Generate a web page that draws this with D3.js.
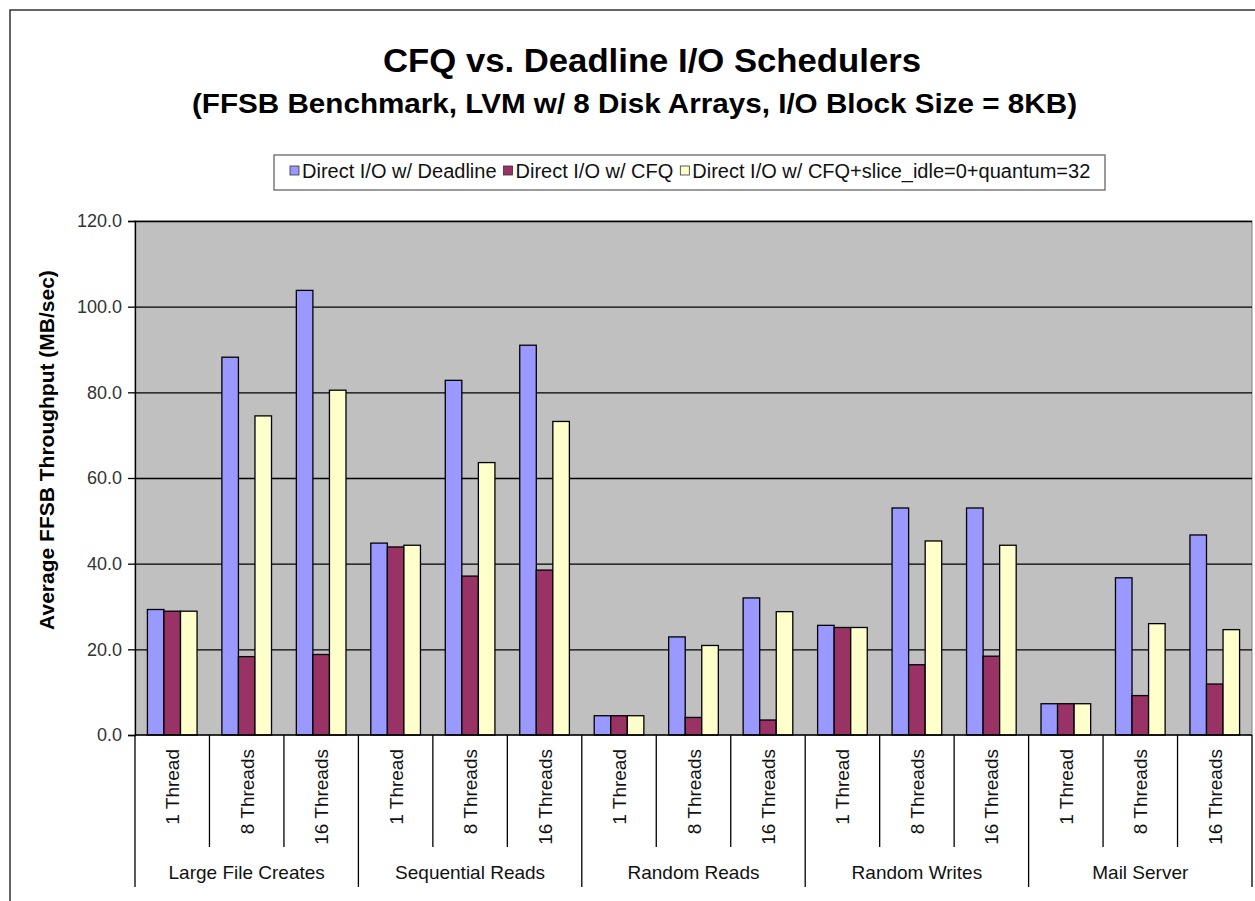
<!DOCTYPE html>
<html>
<head>
  <meta charset="utf-8">
  <script src="https://d3js.org/d3.v7.min.js"></script>
  <style>
    body { margin: 0; background: #fff; font-family: 'Liberation Sans', Arial, sans-serif; }
  </style>
</head>
<body>
  <div id="my_dataviz"></div>
  <script>
    // data
    var groups = ["Large File Creates", "Sequential Reads", "Random Reads", "Random Writes", "Mail Server"];
    var threads = ["1 Thread", "8 Threads", "16 Threads"];
    var seriesNames = ["Direct I/O w/ Deadline", "Direct I/O w/ CFQ", "Direct I/O w/ CFQ+slice_idle=0+quantum=32"];
    var deadline = [29.3, 88.2, 103.8, 44.8, 82.8, 91.0, 4.5, 22.9, 32.0, 25.6, 53.0, 53.0, 7.3, 36.7, 46.7];
    var cfq      = [28.9, 18.3, 18.8, 43.9, 37.1, 38.5, 4.5, 4.1, 3.5, 25.1, 16.4, 18.4, 7.3, 9.2, 11.9];
    var cfqTuned = [28.9, 74.5, 80.5, 44.3, 63.6, 73.2, 4.5, 20.9, 28.8, 25.1, 45.3, 44.3, 7.3, 26.0, 24.6];
    var yTicks = [0, 20, 40, 60, 80, 100, 120];

    var colors = ["#9999FF", "#993366", "#FFFFCC"];
    var seriesValues = [deadline, cfq, cfqTuned];

    var W = 1255, H = 901;
    var plot = { left: 135, right: 1252, top: 221, bottom: 735 };

    var svg = d3.select("#my_dataviz")
      .append("svg")
      .attr("width", W)
      .attr("height", H);

    // outer chart border (cut off at right and bottom)
    svg.append("rect")
      .attr("x", 10).attr("y", 10)
      .attr("width", W + 20).attr("height", H + 20)
      .attr("fill", "#fff")
      .attr("stroke", "#333")
      .attr("stroke-width", 1.5);

    // titles
    svg.append("text")
      .attr("x", 383).attr("y", 72)
      .attr("textLength", 538).attr("lengthAdjust", "spacingAndGlyphs")
      .style("font-size", "34px").style("font-weight", "bold")
      .text("CFQ vs. Deadline I/O Schedulers");
    svg.append("text")
      .attr("x", 192).attr("y", 113)
      .attr("textLength", 885).attr("lengthAdjust", "spacingAndGlyphs")
      .style("font-size", "27px").style("font-weight", "bold")
      .text("(FFSB Benchmark, LVM w/ 8 Disk Arrays, I/O Block Size = 8KB)");

    // scales
    var cats = d3.range(groups.length * threads.length);
    var x0 = d3.scaleBand().domain(cats).range([plot.left, plot.right]);
    var x1 = d3.scaleBand().domain(d3.range(3)).range([0, x0.bandwidth()])
      .paddingInner(0).paddingOuter(0.75);
    var y = d3.scaleLinear().domain([0, 120]).range([plot.bottom, plot.top]);

    // plot background
    svg.append("rect")
      .attr("x", plot.left).attr("y", plot.top)
      .attr("width", plot.right - plot.left).attr("height", plot.bottom - plot.top)
      .attr("fill", "#C0C0C0")
      .attr("stroke", "#808080");

    // gridlines
    svg.append("g")
      .attr("transform", "translate(" + plot.left + ",0)")
      .call(d3.axisLeft(y).tickValues(yTicks.slice(1)).tickSize(-(plot.right - plot.left)).tickFormat(""))
      .call(function (g) { g.select(".domain").remove(); })
      .selectAll("line").attr("stroke", "#000").attr("stroke-width", 1.3);

    // bars
    seriesValues.forEach(function (vals, s) {
      svg.append("g").selectAll("rect")
        .data(vals)
        .enter()
        .append("rect")
        .attr("x", function (d, i) { return x0(i) + x1(s); })
        .attr("y", function (d) { return y(d); })
        .attr("width", x1.bandwidth())
        .attr("height", function (d) { return y(0) - y(d); })
        .attr("fill", colors[s])
        .attr("stroke", "#000")
        .attr("stroke-width", 1.3);
    });

    // y axis
    var yAxis = svg.append("g")
      .attr("transform", "translate(" + plot.left + ",0)")
      .call(d3.axisLeft(y).tickValues(yTicks).tickSize(7).tickPadding(6).tickFormat(d3.format(".1f")));
    yAxis.select(".domain").attr("stroke", "#000").attr("stroke-width", 1.3);
    yAxis.selectAll("line").attr("stroke", "#000").attr("stroke-width", 1.3);
    yAxis.selectAll("text")
      .style("font-family", "'Liberation Sans', Arial, sans-serif")
      .style("font-size", "18px").attr("fill", "#333");

    svg.append("text")
      .attr("transform", "translate(54,450) rotate(-90)")
      .attr("text-anchor", "middle")
      .style("font-size", "21px").style("font-weight", "bold")
      .text("Average FFSB Throughput (MB/sec)");

    // x axis: two-level category table
    var xg = svg.append("g").attr("stroke", "#000").attr("stroke-width", 1.3);
    xg.append("line")
      .attr("x1", plot.left).attr("x2", plot.right)
      .attr("y1", plot.bottom).attr("y2", plot.bottom);
    cats.forEach(function (c) {
      var edge = x0(c);
      var isGroupEdge = c % threads.length === 0;
      xg.append("line")
        .attr("x1", edge).attr("x2", edge)
        .attr("y1", plot.bottom).attr("y2", isGroupEdge ? 887 : 847);
    });
    xg.append("line")
      .attr("x1", plot.right).attr("x2", plot.right)
      .attr("y1", plot.bottom).attr("y2", 887);

    svg.append("g").selectAll("text")
      .data(cats)
      .enter()
      .append("text")
      .attr("transform", function (c) {
        return "translate(" + (x0(c) + x0.bandwidth() / 2 + 7) + ",749) rotate(-90)";
      })
      .attr("text-anchor", "end")
      .style("font-size", "19px").attr("fill", "#111")
      .text(function (c) { return threads[c % threads.length]; });

    svg.append("g").selectAll("text")
      .data(groups)
      .enter()
      .append("text")
      .attr("x", function (g, i) {
        var a = x0(i * 3), b = x0(i * 3 + 2) + x0.bandwidth();
        return (a + b) / 2;
      })
      .attr("y", 879)
      .attr("text-anchor", "middle")
      .style("font-size", "19px").attr("fill", "#111")
      .text(function (g) { return g; });

    // legend
    var legend = svg.append("g");
    legend.append("rect")
      .attr("x", 274).attr("y", 155).attr("width", 831).attr("height", 35)
      .attr("fill", "#fff").attr("stroke", "#666").attr("stroke-width", 1.3);
    var lx = 290;
    seriesNames.forEach(function (name, s) {
      legend.append("rect")
        .attr("x", lx).attr("y", 166).attr("width", 9).attr("height", 9)
        .attr("fill", colors[s]).attr("stroke", "#333").attr("stroke-width", 0.8);
      var t = legend.append("text")
        .attr("x", lx + 12).attr("y", 178)
        .style("font-size", "20px").attr("fill", "#111")
        .text(name);
      lx += 12 + t.node().getComputedTextLength() + 7;
    });
  </script>
</body>
</html>
